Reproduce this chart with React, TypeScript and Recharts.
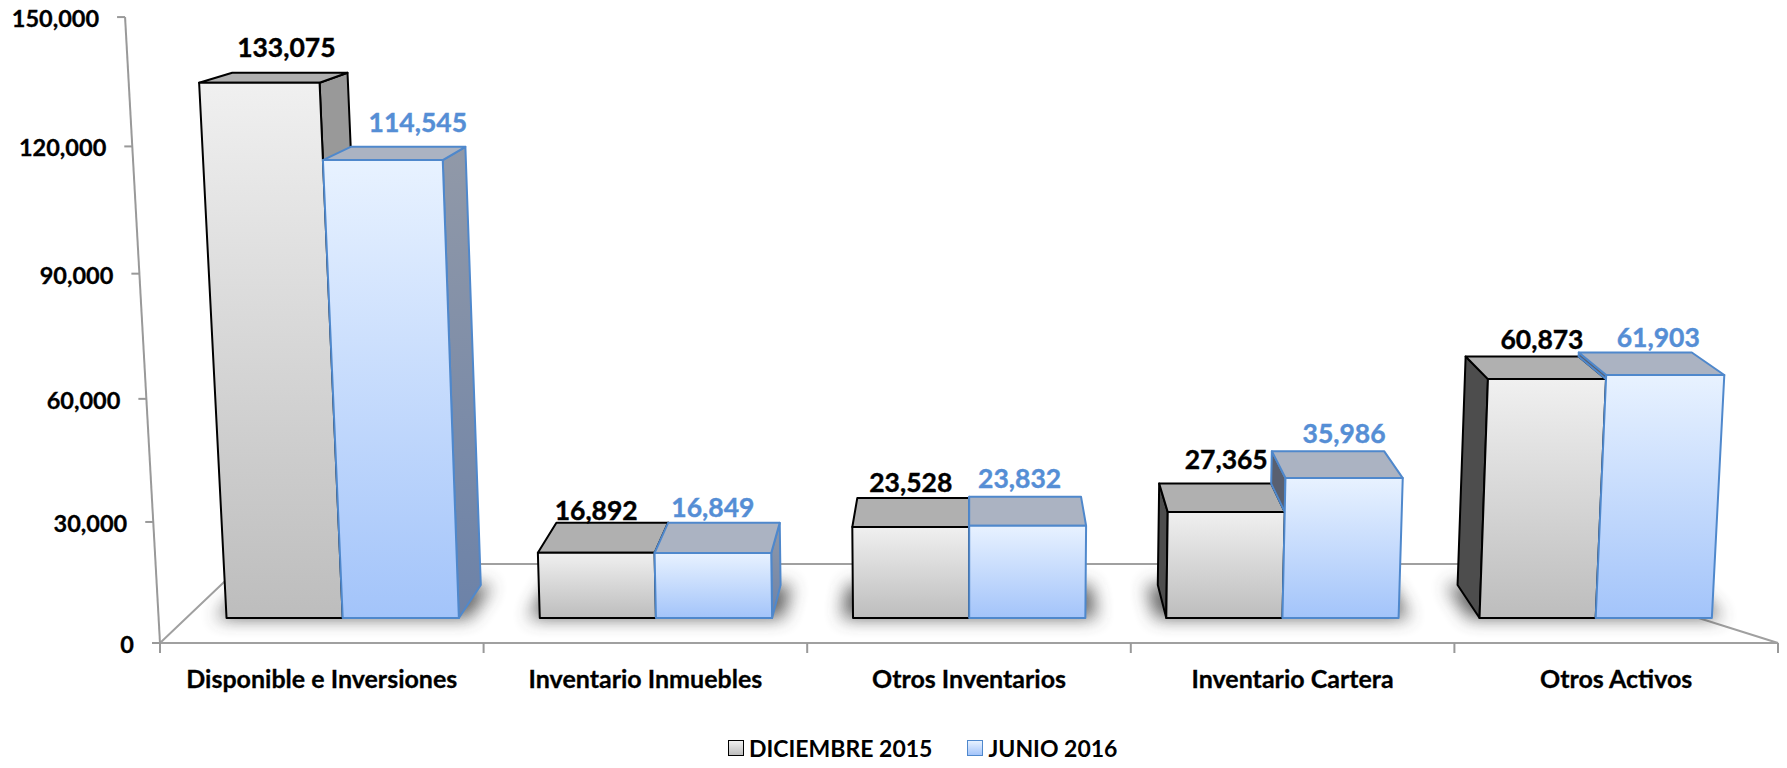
import { BarChart, Bar, XAxis, YAxis, Legend, LabelList, Customized } from 'recharts'

const categories = ['Disponible e Inversiones', 'Inventario Inmuebles', 'Otros Inventarios', 'Inventario Cartera', 'Otros Activos']
const diciembre = [133075, 16892, 23528, 27365, 60873]
const junio = [114545, 16849, 23832, 35986, 61903]
const yTicks = [0, 30000, 60000, 90000, 120000, 150000]
const seriesNames = ['DICIEMBRE 2015', 'JUNIO 2016']

const rows = categories.map((name, i) => ({ name, dic: diciembre[i], jun: junio[i] }))

// label offsets from the bar top, the original labels were placed by hand
const dicNudge = [[27, -36], [0, -43], [0, -45], [0, -53], [-5, -40]]
const junNudge = [[35, -38], [0, -46], [-8, -48], [0, -45], [-7, -38]]

const FONT = 'Lato, sans-serif'
const W = 1787
const H = 768
const PLOT = { left: 160, right: 1778, top: 18, bottom: 618 }
const FLOOR_Y = 643
const CX = 969
const VY = -148
const DEPTH = 0.043
const LEAN = 6.9e-5
const SQUEEZE = 0.968

// perspective helpers, same vanishing point for every bar
const squeeze = (x: number) => CX + (x - CX) * SQUEEZE
const warpH = (h: number) => h - 0.18 - 0.0386 * h + 8.37e-5 * h * h
const lean = (x: number, h: number, base = PLOT.bottom) => ({ x: CX + (x - CX) * (1 + LEAN * h), y: base - h })
const back = (p: { x: number; y: number }) => ({ x: p.x + (CX - p.x) * DEPTH, y: p.y + (VY - p.y) * DEPTH })
const pts = (list: { x: number; y: number }[]) => list.map((p) => `${p.x},${p.y}`).join(' ')

function box(x: number, width: number, height: number) {
  const l = squeeze(x)
  const r = squeeze(x + width)
  const h = warpH(height)
  return { l, r, h, bl: lean(l, 0), br: lean(r, 0), tl: lean(l, h), tr: lean(r, h) }
}

function Faces({ b, stroke, front, top, left, right, clipLeft }: any) {
  const btl = back(b.tl)
  const btr = back(b.tr)
  const bbl = back(b.bl)
  const bbr = back(b.br)
  const common = { stroke, strokeWidth: 2, strokeLinejoin: 'round' as const }
  return (
    <g>
      {b.r < CX && <polygon points={pts([b.tr, btr, bbr, b.br])} fill={right} {...common} />}
      {b.l > CX && !clipLeft && <polygon points={pts([b.tl, btl, bbl, b.bl])} fill={left} {...common} />}
      {b.l > CX && clipLeft && <polygon points={pts([btl, b.tl, clipLeft[0], clipLeft[1]])} fill={left} {...common} />}
      <polygon points={pts([b.tl, b.tr, btr, btl])} fill={top} {...common} />
      <polygon points={pts([b.tl, b.tr, b.br, b.bl])} fill={front} {...common} />
    </g>
  )
}

function DicBar({ x, width, height }: any) {
  const b = box(x, width, height)
  // footprint of the whole pair, for the soft shadow on the floor
  const far = squeeze(x + width * 2)
  const near = lean(b.l, 0)
  const end = lean(far, 0)
  const shadow = [
    { x: near.x - 11, y: near.y },
    { x: back(near).x - 11, y: back(near).y },
    { x: back(end).x + 11, y: back(end).y },
    { x: end.x + 11, y: end.y },
  ]
  return (
    <g>
      <polygon points={pts(shadow)} fill="#444" filter="url(#floorShadow)" opacity={0.85} />
      <Faces b={b} stroke="#000" front="url(#dicFront)" top="#b0b0b0" left="#4d4d4d" right="#999" />
    </g>
  )
}

function JunBar({ x, width, height, payload }: any) {
  const b = box(x, width, height)
  const otherH = (height * payload.dic) / payload.jun
  const other = box(x - width, width, otherH)
  const clipLeft = other.h < b.h ? [other.tr, back(other.tr)] : [b.tl, back(b.tl)]
  return <Faces b={b} stroke="#4f88cc" front="url(#junFront)" top="#abb3c2" left="#596070" right="url(#junSide)" clipLeft={clipLeft} />
}

const barLabel = (color: string, nudge: number[][]) => (props: any) => {
  const { x, width, height, value, index } = props
  const b = box(x, width, height)
  const [dx, dy] = nudge[index]
  return (
    <text x={(b.tl.x + b.tr.x) / 2 + dx} y={b.tl.y + dy} fill={color} stroke={color} strokeWidth={0.4} textAnchor="middle" dominantBaseline="central" fontFamily={FONT} fontWeight={700} fontSize={26.5}>
      {Number(value).toLocaleString('en-US')}
    </text>
  )
}

function wallY(y: number) {
  const h = PLOT.bottom - y
  return y + 25 - 7.2e-5 * h * h
}

function WallTick({ y, payload }: any) {
  const ty = wallY(y)
  const p = lean(PLOT.left, FLOOR_Y - ty, FLOOR_Y)
  return (
    <g>
      <line x1={p.x - 8} y1={ty} x2={p.x} y2={ty} stroke="#999" strokeWidth={2} />
      <text x={p.x - 26} y={ty + 1} textAnchor="end" dominantBaseline="central" fontFamily={FONT} fontWeight={700} fontSize={23.5} stroke="#000" strokeWidth={0.3} fill="#000">
        {Number(payload.value).toLocaleString('en-US')}
      </text>
    </g>
  )
}

function CategoryTick({ x, payload, index }: any) {
  const band = (PLOT.right - PLOT.left) / categories.length
  const marks = index === categories.length - 1 ? [x - band / 2, x + band / 2] : [x - band / 2]
  return (
    <g>
      {marks.map((m) => (
        <line key={m} x1={m} y1={FLOOR_Y} x2={m} y2={FLOOR_Y + 10} stroke="#999" strokeWidth={2} />
      ))}
      <text x={x} y={678} textAnchor="middle" dominantBaseline="central" fontFamily={FONT} fontWeight={700} fontSize={25} stroke="#000" strokeWidth={0.3} fill="#000">
        {payload.value}
      </text>
    </g>
  )
}

function Floor() {
  const wallTop = lean(PLOT.left, FLOOR_Y - wallY(PLOT.top), FLOOR_Y)
  return (
    <g>
      <polygon points={`${PLOT.left},${FLOOR_Y} ${PLOT.right},${FLOOR_Y} 1527,564 243,564`} fill="#fff" stroke="#a0a0a0" strokeWidth={2} />
      <line x1={PLOT.left} y1={FLOOR_Y} x2={wallTop.x} y2={wallTop.y} stroke="#999" strokeWidth={2} />
    </g>
  )
}

function LegendBox() {
  const swatch = (border: string, from: string, to: string) => ({
    width: 14,
    height: 14,
    border: `1.5px solid ${border}`,
    background: `linear-gradient(${from}, ${to})`,
    marginRight: 5,
  })
  return (
    <div style={{ display: 'flex', alignItems: 'center', fontFamily: FONT, fontWeight: 700, fontSize: 23, color: '#000', whiteSpace: 'nowrap', lineHeight: '26px' }}>
      <span style={swatch('#000', '#f0f0f0', '#bdbdbd')} />
      <span style={{ marginRight: 35 }}>{seriesNames[0]}</span>
      <span style={swatch('#4f88cc', '#e8f2ff', '#a3c4fa')} />
      <span>{seriesNames[1]}</span>
    </div>
  )
}

export default function App() {
  return (
    <div style={{ position: 'absolute', left: 0, top: 0, width: W, height: H, background: '#fff' }}>
      <BarChart
        width={W}
        height={H}
        data={rows}
        barGap={0}
        barSize={120}
        margin={{ top: PLOT.top, right: W - PLOT.right, bottom: H - PLOT.bottom - 2, left: PLOT.left - 2 }}
      >
        <defs>
          <linearGradient id="dicFront" x1="0" y1="0" x2="0" y2="1">
            <stop offset="0%" stopColor="#f0f0f0" />
            <stop offset="100%" stopColor="#bdbdbd" />
          </linearGradient>
          <linearGradient id="junFront" x1="0" y1="0" x2="0" y2="1">
            <stop offset="0%" stopColor="#e8f2ff" />
            <stop offset="100%" stopColor="#a3c4fa" />
          </linearGradient>
          <linearGradient id="junSide" x1="0" y1="0" x2="0" y2="1">
            <stop offset="0%" stopColor="#9199a8" />
            <stop offset="100%" stopColor="#6c82a8" />
          </linearGradient>
          <filter id="floorShadow" x="-30%" y="-100%" width="160%" height="300%">
            <feGaussianBlur stdDeviation="9" />
          </filter>
        </defs>
        <Customized component={Floor} />
        <XAxis dataKey="name" height={2} interval={0} axisLine={false} tickLine={false} tick={CategoryTick} />
        <YAxis domain={[0, 150000]} ticks={yTicks} width={2} interval={0} axisLine={false} tickLine={false} tick={WallTick} />
        <Legend
          layout="horizontal"
          verticalAlign="middle"
          align="center"
          content={LegendBox}
          wrapperStyle={{ position: 'absolute', left: 728, top: 735, width: 'auto' }}
        />
        <Bar dataKey="dic" name={seriesNames[0]} isAnimationActive={false} shape={DicBar}>
          <LabelList dataKey="dic" content={barLabel('#000', dicNudge)} />
        </Bar>
        <Bar dataKey="jun" name={seriesNames[1]} isAnimationActive={false} shape={JunBar}>
          <LabelList dataKey="jun" content={barLabel('#558ed5', junNudge)} />
        </Bar>
      </BarChart>
    </div>
  )
}
